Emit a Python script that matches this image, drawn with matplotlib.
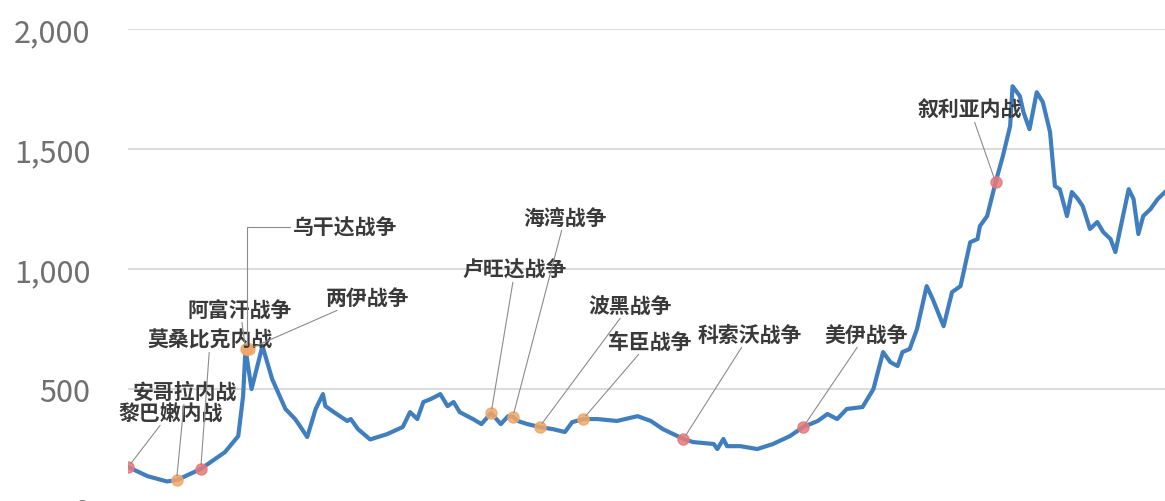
import matplotlib
matplotlib.use('Agg')
import matplotlib.pyplot as plt
from matplotlib.ticker import FuncFormatter

plt.rcParams['font.family'] = ['Noto Sans CJK SC', 'DejaVu Sans']

# gold price (USD/oz)
years = [1975.0, 1975.8, 1976.6, 1977.0, 1978.0, 1979.0, 1979.55, 1979.75, 1979.85, 1980.1,
         1980.55, 1980.95, 1981.5, 1981.9, 1982.1, 1982.4, 1982.75, 1983.05, 1983.15, 1983.5,
         1984.05, 1984.2, 1984.5, 1985.0, 1985.7, 1986.35, 1986.65, 1986.95, 1987.2, 1987.5,
         1987.9, 1988.2, 1988.45, 1988.7, 1989.25, 1989.6, 1990.0, 1990.4, 1990.7, 1990.9,
         1991.1, 1991.5, 1992.0, 1992.55, 1993.05, 1993.35, 1993.8, 1994.4, 1995.2, 1996.05,
         1996.6, 1997.1, 1997.95, 1998.35, 1999.2, 1999.35, 1999.6, 1999.75, 2000.3, 2001.0,
         2001.65, 2002.35, 2002.9, 2003.5, 2003.9, 2004.3, 2004.7, 2005.35, 2005.8, 2006.2,
         2006.5, 2006.8, 2007.0, 2007.3, 2007.6, 2008.0, 2008.25, 2008.7, 2009.05, 2009.4,
         2009.8, 2010.1, 2010.2, 2010.5, 2010.85, 2011.15, 2011.45, 2011.55, 2011.85, 2012.0,
         2012.25, 2012.55, 2012.8, 2013.1, 2013.3, 2013.5, 2013.8, 2014.0, 2014.25, 2014.45,
         2014.75, 2015.05, 2015.3, 2015.6, 2015.8, 2016.0, 2016.35, 2016.55, 2016.75, 2016.95,
         2017.25, 2017.55, 2017.85]
price = [175, 137, 115, 120, 167, 237, 304, 470, 667, 500,
         680, 542, 417, 375, 346, 300, 417, 479, 429, 404,
         367, 375, 333, 290, 312, 342, 404, 375, 446, 458,
         479, 429, 446, 404, 375, 354, 400, 354, 387, 385,
         367, 354, 342, 333, 321, 362, 375, 375, 367, 387,
         367, 333, 292, 279, 271, 250, 292, 262, 262, 250,
         271, 304, 342, 367, 396, 375, 417, 425, 500, 654,
         612, 596, 654, 667, 750, 929, 875, 762, 904, 929,
         1112, 1125, 1179, 1221, 1362, 1471, 1596, 1762, 1721, 1654,
         1583, 1737, 1696, 1571, 1346, 1333, 1221, 1321, 1292, 1262,
         1167, 1196, 1154, 1125, 1071, 1167, 1333, 1292, 1146, 1221,
         1250, 1292, 1321]

# events: name, point on the line, label position, marker colour
event_names = ['黎巴嫩内战', '安哥拉内战', '莫桑比克内战', '阿富汗战争', '乌干达战争', '两伊战争',
               '卢旺达战争', '海湾战争', '波黑战争', '车臣战争', '科索沃战争', '美伊战争', '叙利亚内战']
event_x = [1975.0, 1977.0, 1978.0, 1979.85, 1979.9, 1980.0,
           1990.0, 1990.9, 1992.0, 1993.8, 1997.95, 2002.9, 2010.85]
event_y = [175, 120, 167, 667, 667, 667,
           400, 385, 342, 375, 292, 342, 1362]
label_x = [1976.74, 1977.36, 1978.39, 1979.63, 1983.97, 1984.88,
           1990.99, 1993.06, 1995.74, 1996.57, 2000.70, 2005.5, 2009.79]
label_y = [404, 492, 708, 833, 1175, 883,
           1000, 1217, 850, 700, 729, 729, 1667]
red = '#e8787a'
orange = '#f2a766'
event_col = [red, orange, red, orange, orange, orange,
             orange, orange, orange, orange, red, red, red]
straight = 'arc3'
bent = 'angle,angleA=0,angleB=90,rad=0'
event_conn = [straight, straight, straight, straight, bent, straight,
              straight, straight, straight, straight, straight, straight, straight]

yticks = [0, 500, 1000, 1500, 2000]

fig = plt.figure(figsize=(11.65, 5.02), dpi=100)
ax = fig.add_axes([0.110, -0.016, 0.890, 0.956])

ax.plot(years, price, color='#3f7fc0', lw=3, zorder=3, solid_joinstyle='round')

for i in range(len(event_names)):
    ax.plot(event_x[i], event_y[i], 'o', ms=8, color=event_col[i], alpha=0.85,
            mec=event_col[i], zorder=4)
    ax.annotate(event_names[i], xy=(event_x[i], event_y[i]),
                xytext=(label_x[i], label_y[i]), ha='center', va='center',
                fontsize=15, fontweight='bold', color='#3a3a3a', zorder=5,
                arrowprops=dict(arrowstyle='-', color='#8c8c8c', lw=0.8,
                                shrinkA=0, shrinkB=3, connectionstyle=event_conn[i]))

ax.set_xlim(years[0], years[-1])
ax.set_ylim(0, 2000)
ax.set_yticks(yticks)
ax.yaxis.set_major_formatter(FuncFormatter(lambda v, p: '{:,.0f}'.format(v)))
ax.tick_params(axis='y', length=0, pad=27, labelsize=22, labelcolor='#707070')
ax.set_xticks([])
ax.grid(axis='y', color='#dcdcdc', lw=1.5)
ax.set_axisbelow(True)
for s in ax.spines.values():
    s.set_visible(False)

fig.savefig('out.png', dpi=100)
